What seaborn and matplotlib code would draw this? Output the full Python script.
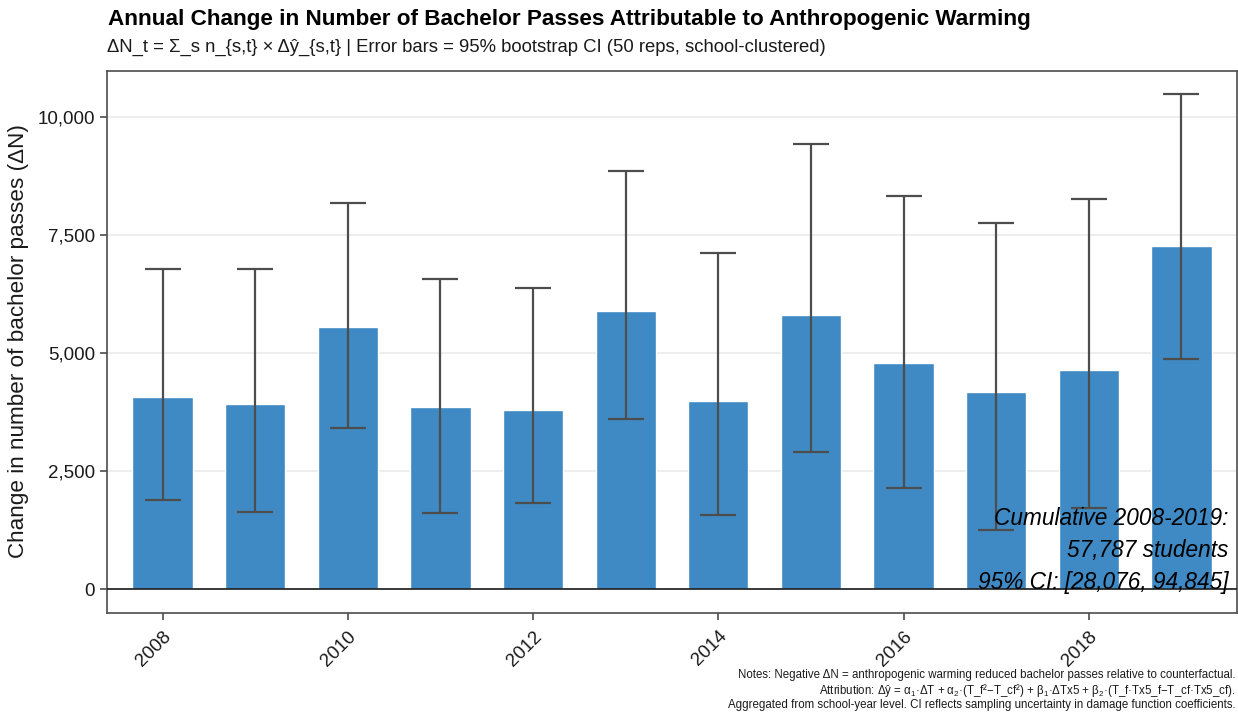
import matplotlib
matplotlib.use("Agg")
import matplotlib.pyplot as plt
import seaborn as sns
import numpy as np
import pandas as pd

# Annual attributable change and bootstrap 95% CI bounds
years = [2008, 2009, 2010, 2011, 2012, 2013, 2014, 2015, 2016, 2017, 2018, 2019]
delta_n = [4070, 3920, 5550, 3860, 3790, 5900, 3990, 5810, 4790, 4170, 4640, 7280]
ci_low = [1890, 1630, 3420, 1610, 1820, 3610, 1570, 2910, 2150, 1250, 1720, 4870]
ci_high = [6790, 6790, 8190, 6580, 6390, 8870, 7130, 9440, 8340, 7750, 8270, 10490]

y_ticks = [0, 2500, 5000, 7500, 10000]
y_tick_labels = ["0", "2,500", "5,000", "7,500", "10,000"]
x_tick_years = [2008, 2010, 2012, 2014, 2016, 2018]

title = "Annual Change in Number of Bachelor Passes Attributable to Anthropogenic Warming"
subtitle = "ΔN_t = Σ_s n_{s,t} × Δŷ_{s,t} | Error bars = 95% bootstrap CI (50 reps, school-clustered)"
y_label = "Change in number of bachelor passes (ΔN)"
summary = "Cumulative 2008-2019:\n57,787 students\n95% CI: [28,076, 94,845]"
notes = ("Notes: Negative ΔN = anthropogenic warming reduced bachelor passes relative to counterfactual.\n"
         "Attribution: Δŷ = α$_1$·ΔT + α$_2$·(T_f²−T_cf²) + β$_1$·ΔTx5 + β$_2$·(T_f·Tx5_f−T_cf·Tx5_cf).\n"
         "Aggregated from school-year level. CI reflects sampling uncertainty in damage function coefficients.")

df = pd.DataFrame({"year": years, "delta_n": delta_n, "lo": ci_low, "hi": ci_high})

sns.set_theme(style="white")
plt.rcParams["font.family"] = ["Liberation Sans", "DejaVu Sans"]
plt.rcParams["mathtext.fontset"] = "custom"
plt.rcParams["mathtext.rm"] = "Liberation Sans"

fig = plt.figure(figsize=(12.38, 7.17), dpi=100)
ax = fig.add_axes([107 / 1238, 1 - 612.5 / 717, (1237 - 107) / 1238, (612.5 - 70.5) / 717])

bar_color = "#3F8AC4"
sns.barplot(data=df, x="year", y="delta_n", color=bar_color, saturation=1,
            width=0.65, errorbar=None, ax=ax, zorder=2)

pos = np.arange(len(years))
err = [df["delta_n"] - df["lo"], df["hi"] - df["delta_n"]]
ax.errorbar(pos, df["delta_n"], yerr=err, fmt="none", ecolor="#4D4D4D",
            elinewidth=1.6, capsize=13.3, capthick=1.6, zorder=3)

ax.axhline(0, color="#1a1a1a", linewidth=1.2, zorder=4)

ax.set_xlim(-0.6, len(years) - 0.4)
ax.set_ylim(-490, 10990)
ax.set_yticks(y_ticks)
ax.set_yticklabels(y_tick_labels)
tick_pos = [years.index(y) for y in x_tick_years]
ax.set_xticks(tick_pos)
ax.set_xticklabels([str(y) for y in x_tick_years], rotation=45, ha="right",
                   rotation_mode="anchor")

ax.yaxis.grid(True, color="#EBEBEB", linewidth=1.2, zorder=0)
ax.xaxis.grid(False)
ax.set_axisbelow(True)
for s in ax.spines.values():
    s.set_color("#4D4D4D")
    s.set_linewidth(1.2)

ax.tick_params(axis="both", which="both", direction="out", length=5, width=1.2,
               color="#4D4D4D", labelsize=13.5, labelcolor="#1a1a1a",
               bottom=True, left=True)
ax.tick_params(axis="x", pad=6)
ax.set_xlabel("")
ax.set_ylabel(y_label, fontsize=16.2, color="#1a1a1a", labelpad=6)

fig.text(108 / 1238, 1 - 19 / 717, title, fontsize=16.2, fontweight="bold",
         ha="left", va="center", color="#000000")
fig.text(107 / 1238, 1 - 47 / 717, subtitle, fontsize=13.3, ha="left",
         va="center", color="#1a1a1a")

ax.text(1228 / 1238, 1 - 594 / 717, summary, transform=fig.transFigure,
        fontsize=16.3, fontstyle="italic", ha="right", va="bottom",
        linespacing=1.5, color="#000000", zorder=5)

fig.text(1236 / 1238, 1 - 711 / 717, notes, fontsize=8.3, ha="right",
         va="bottom", linespacing=1.05, color="#1a1a1a")

fig.savefig("out.png", dpi=100)
